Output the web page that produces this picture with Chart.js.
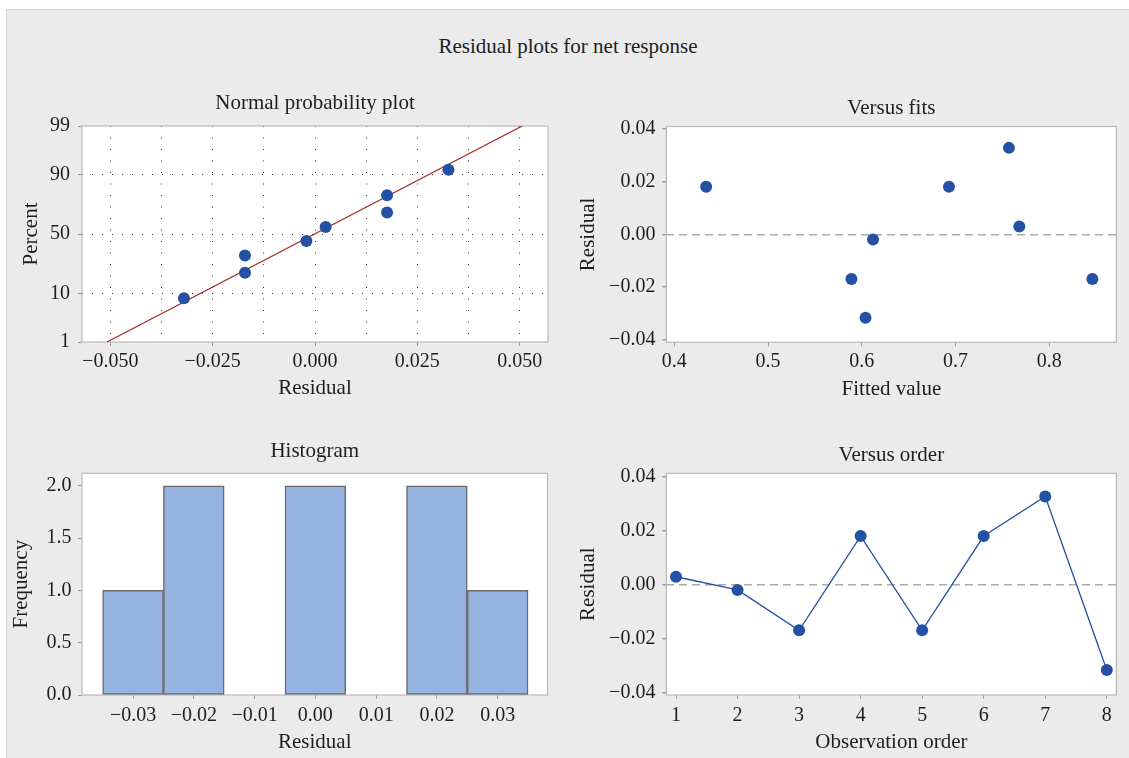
<!DOCTYPE html>
<html>
<head>
<meta charset="utf-8">
<script src="https://cdn.jsdelivr.net/npm/chart.js@4/dist/chart.umd.min.js"></script>
<style>
html,body{margin:0;padding:0;background:#fff;}
#wrap{position:relative;width:1129px;height:758px;overflow:hidden;background:#fff;}
#bg{position:absolute;left:6px;top:9px;right:0;bottom:0;background:#ebebeb;border-top:1px solid #d6d6d6;border-left:1px solid #d6d6d6;}
#title{position:absolute;left:7px;right:0;top:34px;text-align:center;font:21px/24px 'Liberation Serif','Times New Roman',serif;color:#1e1e1e;}
canvas{position:absolute;}
</style>
</head>
<body>
<div id="wrap">
  <div id="bg"></div>
  <div id="title">Residual plots for net response</div>
  <canvas id="c1" width="560" height="340" style="left:7px;top:80px"></canvas>
  <canvas id="c2" width="562" height="340" style="left:567px;top:80px"></canvas>
  <canvas id="c3" width="560" height="328" style="left:7px;top:430px"></canvas>
  <canvas id="c4" width="562" height="328" style="left:567px;top:430px"></canvas>
</div>
<script>
// ---------------- data ----------------
const observationOrder = [1, 2, 3, 4, 5, 6, 7, 8];
const residuals        = [0.0030, -0.0019, -0.0169, 0.0181, -0.0169, 0.0181, 0.0328, -0.0316];
const fittedValues     = [0.768, 0.612, 0.589, 0.434, 0.846, 0.693, 0.757, 0.604];

// normal probability plot (sorted residuals vs percent)
const normalResiduals = [-0.0320, -0.0171, -0.0171, -0.0021, 0.0026, 0.0176, 0.0176, 0.0326];
const normalPercents  = [8.3, 20.2, 32.1, 44.0, 56.0, 67.9, 79.8, 91.7];
const fitLineResidual = [-0.0508, 0.0506];
const fitLinePercent  = [1, 99];

// histogram
const histBinCenters = [-0.03, -0.02, -0.01, 0.00, 0.01, 0.02, 0.03];
const histFrequency  = [1, 2, 0, 2, 0, 2, 1];

// tick values and labels
const probXTicks   = [-0.05, -0.0375, -0.025, -0.0125, 0, 0.0125, 0.025, 0.0375, 0.05];
const probXLabels  = ['\u22120.050', '', '\u22120.025', '', '0.000', '', '0.025', '', '0.050'];
const probYTicks   = [1, 10, 50, 90, 99];
const probYLabels  = ['1', '10', '50', '90', '99'];
const fitXTicks    = [0.4, 0.5, 0.6, 0.7, 0.8];
const fitXLabels   = ['0.4', '0.5', '0.6', '0.7', '0.8'];
const residTicks   = [-0.04, -0.02, 0, 0.02, 0.04];
const residLabels  = ['\u22120.04', '\u22120.02', '0.00', '0.02', '0.04'];
const histXTicks   = [-0.03, -0.02, -0.01, 0, 0.01, 0.02, 0.03];
const histXLabels  = ['\u22120.03', '\u22120.02', '\u22120.01', '0.00', '0.01', '0.02', '0.03'];
const histYTicks   = [0, 0.5, 1, 1.5, 2];
const histYLabels  = ['0.0', '0.5', '1.0', '1.5', '2.0'];
const orderTicks   = [1, 2, 3, 4, 5, 6, 7, 8];
const orderLabels  = ['1', '2', '3', '4', '5', '6', '7', '8'];

// ---------------- helpers ----------------
// inverse standard normal CDF (for the normal probability axis)
function probit(p){
  const a=[-3.969683028665376e+01,2.209460984245205e+02,-2.759285104469687e+02,1.383577518672690e+02,-3.066479806614716e+01,2.506628277459239e+00];
  const b=[-5.447609879822406e+01,1.615858368580409e+02,-1.556989798598866e+02,6.680131188771972e+01,-1.328068155288572e+01];
  const c=[-7.784894002430293e-03,-3.223964580411365e-01,-2.400758277161838e+00,-2.549732539343734e+00,4.374664141464968e+00,2.938163982698783e+00];
  const d=[7.784695709041462e-03,3.224671290700398e-01,2.445134137142996e+00,3.754408661907416e+00];
  const pl=0.02425, ph=1-pl; let q, r;
  if(p<pl){ q=Math.sqrt(-2*Math.log(p)); return (((((c[0]*q+c[1])*q+c[2])*q+c[3])*q+c[4])*q+c[5])/((((d[0]*q+d[1])*q+d[2])*q+d[3])*q+1); }
  if(p>ph){ q=Math.sqrt(-2*Math.log(1-p)); return -(((((c[0]*q+c[1])*q+c[2])*q+c[3])*q+c[4])*q+c[5])/((((d[0]*q+d[1])*q+d[2])*q+d[3])*q+1); }
  q=p-0.5; r=q*q;
  return (((((a[0]*r+a[1])*r+a[2])*r+a[3])*r+a[4])*r+a[5])*q/(((((b[0]*r+b[1])*r+b[2])*r+b[3])*r+b[4])*r+1);
}

const FONT = "'Liberation Serif','Times New Roman',serif";
const TXT = '#1e1e1e';
const BLUE = '#2451a3';
const FRAME = '#b9b9b9';
const TICKC = '#9a9a9a';

Chart.defaults.font.family = FONT;
Chart.defaults.color = TXT;

const framePlugin = {
  id: 'frame',
  beforeDraw(chart){
    const {ctx, chartArea: a} = chart;
    ctx.save();
    ctx.fillStyle = '#ffffff';
    ctx.fillRect(a.left, a.top, a.right - a.left, a.bottom - a.top);
    ctx.restore();
  },
  beforeDatasetsDraw(chart){
    const {ctx, chartArea: a} = chart;
    ctx.save();
    ctx.strokeStyle = FRAME;
    ctx.lineWidth = 1.2;
    ctx.strokeRect(a.left, a.top, a.right - a.left, a.bottom - a.top);
    ctx.restore();
  }
};

function setTicks(values){ return s => { s.ticks = values.map(v => ({value: v})); }; }
function fixW(w){ return s => { s.width = w; }; }
function fixH(h){ return s => { s.height = h; }; }
function chartTitle(text, pt, pb){
  return {display: true, fullSize: false, text, color: TXT, font: {family: FONT, size: 21, weight: 'normal'}, padding: {top: pt, bottom: pb}};
}
function axTitle(text, pad){
  return Object.assign({display: true, text, color: TXT, font: {family: FONT, size: 21}}, {padding: pad});
}
function tickOpts(labels, pad){
  return {color: TXT, font: {family: FONT, size: 20}, padding: pad, autoSkip: false, maxRotation: 0, minRotation: 0,
          callback: (v, i) => labels[i]};
}
const baseOpts = {responsive: false, animation: false, events: []};

// ---------------- 1. Normal probability plot ----------------
new Chart(document.getElementById('c1'), {
  type: 'scatter',
  data: {datasets: [
    {type: 'line', data: fitLineResidual.map((x, i) => ({x, y: probit(fitLinePercent[i] / 100)})),
     borderColor: '#a8302c', borderWidth: 1.3, pointRadius: 0, fill: false, order: 2},
    {data: normalResiduals.map((x, i) => ({x, y: probit(normalPercents[i] / 100)})),
     backgroundColor: BLUE, borderColor: BLUE, borderWidth: 0, pointRadius: 6, order: 1}
  ]},
  options: Object.assign({}, baseOpts, {
    layout: {padding: {left: 0, right: 19, top: 0, bottom: 0}},
    plugins: {legend: {display: false}, tooltip: {enabled: false},
              title: chartTitle('Normal probability plot', 11, 9.8)},
    scales: {
      x: {type: 'linear', min: -0.0569, max: 0.0569, afterBuildTicks: setTicks(probXTicks), afterFit: fixH(78),
          ticks: tickOpts(probXLabels, 3.7),
          grid: {color: '#333', lineWidth: 1, tickLength: 4, tickColor: ctx => probXLabels[ctx.index] ? TICKC : 'rgba(0,0,0,0)'},
          border: {display: false, dash: [1, 10.5]},
          title: axTitle('Residual', {top: 0, bottom: 18.5})},
      y: {type: 'linear', min: probit(0.01), max: probit(0.99),
          afterBuildTicks: s => { s.ticks = probYTicks.map(p => ({value: probit(p / 100)})); }, afterFit: fixW(75),
          ticks: tickOpts(probYLabels, 8),
          grid: {color: ctx => (ctx.index === 0 || ctx.index === probYTicks.length - 1) ? 'rgba(0,0,0,0)' : '#333',
                 lineWidth: 1, tickLength: 4, tickColor: TICKC},
          border: {display: false, dash: [1, 9]},
          title: axTitle('Percent', {top: 11.5, bottom: 0})}
    }
  }),
  plugins: [framePlugin]
});

// ---------------- 2. Versus fits ----------------
const zeroGrid = {color: ctx => (ctx.tick && ctx.tick.value === 0) ? '#ababab' : 'rgba(0,0,0,0)', lineWidth: 1.5, tickLength: 4, tickColor: TICKC};
new Chart(document.getElementById('c2'), {
  type: 'scatter',
  data: {datasets: [
    {data: fittedValues.map((x, i) => ({x, y: residuals[i]})),
     backgroundColor: BLUE, borderColor: BLUE, borderWidth: 0, pointRadius: 6}
  ]},
  options: Object.assign({}, baseOpts, {
    layout: {padding: {left: 0, right: 12.6, top: 0, bottom: 0}},
    plugins: {legend: {display: false}, tooltip: {enabled: false},
              title: chartTitle('Versus fits', 16.3, 5)},
    scales: {
      x: {type: 'linear', min: 0.3916, max: 0.8716, afterBuildTicks: setTicks(fitXTicks), afterFit: fixH(77.7),
          ticks: tickOpts(fitXLabels, 3.4),
          grid: {color: 'rgba(0,0,0,0)', tickLength: 4, tickColor: TICKC},
          border: {display: false},
          title: axTitle('Fitted value', {top: 0, bottom: 17.8})},
      y: {type: 'linear', min: -0.0409, max: 0.0409, afterBuildTicks: setTicks(residTicks), afterFit: fixW(99.4),
          ticks: tickOpts(residLabels, 7),
          grid: zeroGrid,
          border: {display: false, dash: [8, 5]},
          title: axTitle('Residual', {top: 9.3, bottom: 0})}
    }
  }),
  plugins: [framePlugin]
});

// ---------------- 3. Histogram ----------------
new Chart(document.getElementById('c3'), {
  type: 'bar',
  data: {datasets: [
    {data: histBinCenters.map((x, i) => ({x, y: histFrequency[i]})),
     backgroundColor: '#94b3e0', borderColor: '#6a6a6a', borderWidth: 1.5, borderSkipped: false,
     barPercentage: 1, categoryPercentage: 1}
  ]},
  options: Object.assign({}, baseOpts, {
    layout: {padding: {left: 0, right: 19.5, top: 0, bottom: 0}},
    plugins: {legend: {display: false}, tooltip: {enabled: false},
              title: chartTitle('Histogram', 8.9, 9.2)},
    scales: {
      x: {type: 'linear', offset: false, min: -0.0384, max: 0.0382, afterBuildTicks: setTicks(histXTicks), afterFit: fixH(63),
          ticks: tickOpts(histXLabels, 4.7),
          grid: {offset: false, color: 'rgba(0,0,0,0)', tickLength: 4, tickColor: TICKC},
          border: {display: false},
          title: axTitle('Residual', {top: 0, bottom: 3.2})},
      y: {type: 'linear', min: 0, max: 2.12, afterBuildTicks: setTicks(histYTicks), afterFit: fixW(75),
          ticks: tickOpts(histYLabels, 6.6),
          grid: {color: 'rgba(0,0,0,0)', tickLength: 4, tickColor: TICKC},
          border: {display: false},
          title: axTitle('Frequency', {top: 1.6, bottom: 0})}
    }
  }),
  plugins: [framePlugin]
});

// ---------------- 4. Versus order ----------------
new Chart(document.getElementById('c4'), {
  type: 'scatter',
  data: {datasets: [
    {data: observationOrder.map((x, i) => ({x, y: residuals[i]})), showLine: true,
     borderColor: BLUE, borderWidth: 1.3, backgroundColor: BLUE, pointBorderWidth: 0, pointRadius: 6}
  ]},
  options: Object.assign({}, baseOpts, {
    layout: {padding: {left: 0, right: 12.6, top: 0, bottom: 0}},
    plugins: {legend: {display: false}, tooltip: {enabled: false},
              title: chartTitle('Versus order', 12.4, 5.7)},
    scales: {
      x: {type: 'linear', min: 0.844, max: 8.156, afterBuildTicks: setTicks(orderTicks), afterFit: fixH(63),
          ticks: tickOpts(orderLabels, 4.7),
          grid: {color: 'rgba(0,0,0,0)', tickLength: 4, tickColor: TICKC},
          border: {display: false},
          title: axTitle('Observation order', {top: 0, bottom: 2.5})},
      y: {type: 'linear', min: -0.0409, max: 0.0414, afterBuildTicks: setTicks(residTicks), afterFit: fixW(99.4),
          ticks: tickOpts(residLabels, 7),
          grid: zeroGrid,
          border: {display: false, dash: [8, 5]},
          title: axTitle('Residual', {top: 9.3, bottom: 0})}
    }
  }),
  plugins: [framePlugin]
});
</script>
</body>
</html>
